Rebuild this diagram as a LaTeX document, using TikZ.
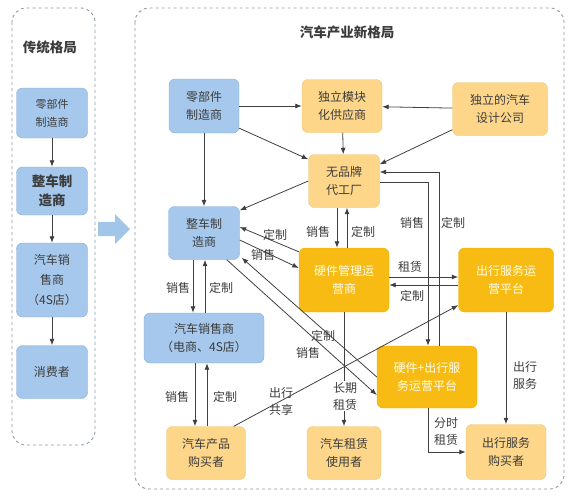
\documentclass[tikz,border=0pt]{standalone}
\usepackage{fontspec}
\setmainfont{Noto Sans CJK SC}
\usetikzlibrary{arrows.meta}
\definecolor{boxblue}{HTML}{A6C8EC}
\definecolor{lineblue}{HTML}{86ACD8}
\definecolor{boxyellow}{HTML}{FDD68A}
\definecolor{lineyellow}{HTML}{EEC46C}
\definecolor{boxgold}{HTML}{F8BB14}
\definecolor{linegold}{HTML}{EDB000}
\definecolor{textgray}{HTML}{3C3C3C}
\definecolor{framegray}{HTML}{8C98A4}
\definecolor{arrowblue}{HTML}{A2C5EA}
\definecolor{linkgray}{HTML}{404040}

\tikzset{
  base box/.style={rounded corners=6pt,align=center,inner sep=0pt,
    text=textgray,font=\fontsize{12}{18}\selectfont},
  blue box/.style={base box,draw=lineblue,fill=boxblue},
  yellow box/.style={base box,draw=lineyellow,fill=boxyellow},
  gold box/.style={base box,draw=linegold,fill=boxgold,text=yellow!8!white},
  link/.style={draw=linkgray,line width=0.8pt,->},
  tag/.style={text=textgray,align=center,inner sep=1pt,
    font=\fontsize{12}{17}\selectfont},
  frame/.style={draw=framegray,dashed,line width=0.9pt,rounded corners=14pt},
}

\begin{document}
\begin{tikzpicture}[x=1pt,y=-1pt,>={Latex[length=6.5pt,width=5pt]}]
    \useasboundingbox (0,0) rectangle (576,501);

    % the two frames
    \draw[frame] (12,8) rectangle (95,445);
    \draw[frame] (135,8) rectangle (564,489);
    \fill[arrowblue] (98,222) -- (115,222) -- (115,214) -- (130,229)
    -- (115,244) -- (115,236) -- (98,236) -- cycle;

    \node[font=\fontsize{13.5}{16}\selectfont\bfseries,text=textgray] (Told) at (50,47) {传统格局};
    \node[font=\fontsize{13.5}{16}\selectfont\bfseries,text=textgray] (Tnew) at (347,32) {汽车产业新格局};

    % old pattern
    \path
    (52,113) node[blue box,minimum width=71pt,minimum height=50pt,
      font=\fontsize{11}{18}\selectfont] (Lpart) {零部件\\制造商}
    (52,191) node[blue box,minimum width=71pt,minimum height=48pt,
      font=\fontsize{13.5}{19}\selectfont\bfseries] (Lcar) {整车制\\造商}
    (52,280) node[blue box,minimum width=71pt,minimum height=74pt,
      font=\fontsize{12}{20}\selectfont] (Lsell) {汽车销\\售商\\（4S店）}
    (52,372) node[blue box,minimum width=71pt,minimum height=53pt] (Lcons) {消费者}
    ;
    \draw[link] (Lpart) -- (Lcar);
    \draw[link] (Lcar) -- (Lsell);
    \draw[link] (Lsell) -- (Lcons);

    % new pattern
    \path
    (204,106) node[blue box,minimum width=70pt,minimum height=54pt] (Part) {零部件\\制造商}
    (342,106) node[yellow box,minimum width=80pt,minimum height=53pt] (Mod) {独立模块\\化供应商}
    (500,109) node[yellow box,minimum width=95pt,minimum height=53pt] (Design) {独立的汽车\\设计公司}
    (344,181) node[yellow box,minimum width=71pt,minimum height=53pt] (Oem) {无品牌\\代工厂}
    (204,233) node[blue box,minimum width=71pt,minimum height=53pt] (Car) {整车制\\造商}
    (344,280) node[gold box,minimum width=90pt,minimum height=64pt] (Hw) {硬件管理运\\营商}
    (506,280) node[gold box,minimum width=95pt,minimum height=64pt] (Mob) {出行服务运\\营平台}
    (204,338) node[blue box,minimum width=120pt,minimum height=50pt] (Sell) {汽车销售商\\（电商、4S店）}
    (427,377) node[gold box,minimum width=100pt,minimum height=62pt] (HwMob) {硬件+出行服\\务运营平台}
    (206,453) node[yellow box,minimum width=79pt,minimum height=53pt] (Buyer) {汽车产品\\购买者}
    (344,453) node[yellow box,minimum width=74pt,minimum height=53pt] (Rent) {汽车租赁\\使用者}
    (506,452) node[yellow box,minimum width=80pt,minimum height=55pt] (MobBuy) {出行服务\\购买者}
    ;

    \draw[link] (Part) -- (Mod);
    \draw[link] (Design) -- (Mod);
    \draw[link] (Mod) -- (Oem);
    \draw[link] ([yshift=5pt]Part.south east) -- ([yshift=-5pt]Oem.north west);
    \draw[link] ([yshift=6pt]Design.south west) -- ([yshift=-10pt]Oem.north east);
    \draw[link] (Part) -- (Car);
    \draw[link] (Oem.west) -- ([yshift=-4pt]Car.north east);

    \draw[link] ([xshift=-7pt]Oem.south) -- ([xshift=-7pt]Hw.north);
    \draw[link] ([xshift=3pt]Hw.north) -- ([xshift=3pt]Oem.south);
    \draw[link] ([yshift=-4pt]Hw.north west) -- ([yshift=6pt]Car.east);
    \draw[link] ([yshift=-7pt]Car.east) -- ([yshift=12pt]Hw.west);

    \draw[link] ([xshift=-11pt]Car.south) -- ([xshift=-11pt]Sell.north);
    \draw[link] ([xshift=1pt]Sell.north) -- ([xshift=1pt]Car.south);
    \draw[link] ([xshift=-9pt]Sell.south) -- ([xshift=-11pt]Buyer.north);
    \draw[link] ([xshift=1pt]Buyer.north) -- ([xshift=3pt]Sell.south);

    \draw[link] (HwMob.west) -- ([xshift=2pt,yshift=2pt]Car.south east);
    \draw[link] ([xshift=-13pt]Car.south east) -- ([yshift=-18pt]HwMob.west);
    \draw[link] ([xshift=-12pt]Buyer.north east) -- ([yshift=7pt]Mob.south west);

    \draw[link] ([yshift=3pt]Hw.east) -- ([yshift=3pt]Mob.west);
    \draw[link] ([yshift=-5pt]Mob.west) -- ([yshift=-5pt]Hw.east);
    \draw[link] (Hw) -- (Rent);
    \draw[link] (Mob) -- (MobBuy);
    \draw[link] ([xshift=1pt]HwMob.south) |- (MobBuy.west);
    \draw[link] ([yshift=-1pt]Oem.east) -| ([xshift=1pt]HwMob.north);
    \draw[link] ([xshift=12pt]HwMob.north) |- ([yshift=9pt]Oem.east);

    % labels on the links
    \path
    (318,232) node[tag] (sOemHw) {销售}
    (363,232) node[tag] (cOemHw) {定制}
    (275,235) node[tag] (cHwCar) {定制}
    (263,255) node[tag] (sCarHw) {销售}
    (178,288) node[tag] (sCarSell) {销售}
    (221,288) node[tag] (cCarSell) {定制}
    (177,397) node[tag] (sSellBuy) {销售}
    (225,397) node[tag] (cSellBuy) {定制}
    (323,336) node[tag] (cMixCar) {定制}
    (308,353) node[tag] (sCarMix) {销售}
    (281,401) node[tag] (tShare) {出行\\共享}
    (345,396) node[tag,fill=white] (tLong) {长期\\租赁}
    (410,267) node[tag] (tRent) {租赁}
    (412,296) node[tag] (cMobHw) {定制}
    (525,375) node[tag] (tServe) {出行\\服务}
    (446,431) node[tag] (tTime) {分时\\租赁}
    (412,223) node[tag] (sOemMix) {销售}
    (453,223) node[tag] (cMixOem) {定制}
    ;
\end{tikzpicture}
\end{document}
